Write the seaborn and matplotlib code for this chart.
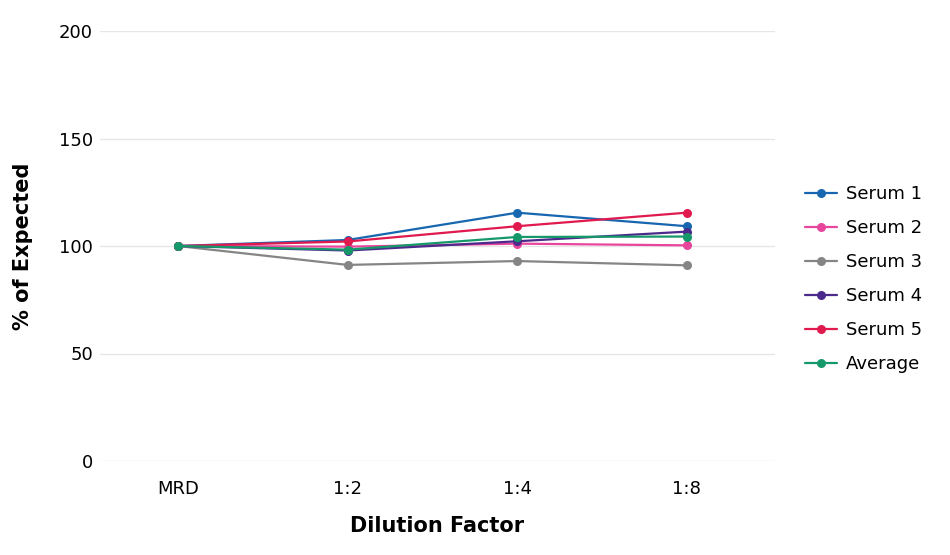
import pandas as pd
import matplotlib.pyplot as plt
import seaborn as sns

# DATA
dilutions = ['MRD', '1:2', '1:4', '1:8']
serum_1 = [100, 102.8, 115.5, 109.2]
serum_2 = [100, 99.7, 101.1, 100.3]
serum_3 = [100, 91.2, 93.0, 91.0]
serum_4 = [100, 97.9, 102.2, 106.7]
serum_5 = [100, 102.1, 109.2, 115.5]
average = [100, 98.3, 104.2, 104.4]
series_names = ['Serum 1', 'Serum 2', 'Serum 3', 'Serum 4', 'Serum 5', 'Average']
y_ticks = [0, 50, 100, 150, 200]

colors = ['#1766b0', '#e8459c', '#858585', '#4b2a8c', '#e0194f', '#16996a']

rows = []
for name, vals in zip(series_names, [serum_1, serum_2, serum_3, serum_4, serum_5, average]):
    for i, (d, v) in enumerate(zip(dilutions, vals)):
        rows.append({'pos': i, 'dilution': d, 'value': v, 'series': name})
df = pd.DataFrame(rows)

sns.set_style('white')
plt.rcParams['font.family'] = ['DejaVu Sans']
plt.rcParams['text.color'] = 'black'

fig = plt.figure(figsize=(9.5, 5.55), dpi=100)
ax = fig.add_axes([100 / 950, 1 - 461 / 555, (775 - 100) / 950, (461 - 31) / 555])

sns.lineplot(data=df, x='pos', y='value', hue='series', hue_order=series_names,
             palette=colors, marker='o', markersize=6.5, markeredgewidth=0,
             linewidth=1.6, ax=ax, legend=True)

ax.set_xlim(-0.46, 3.52)
ax.set_ylim(0, 200)
ax.set_xticks(range(len(dilutions)))
ax.set_xticklabels(dilutions)
ax.set_yticks(y_ticks)
ax.tick_params(axis='both', labelsize=13, length=0, labelcolor='black')
ax.tick_params(axis='x', pad=14)
ax.tick_params(axis='y', pad=5)
ax.grid(axis='y', color='#e6e6e6', linewidth=1)
ax.set_axisbelow(True)
for s in ax.spines.values():
    s.set_visible(False)

ax.set_xlabel('Dilution Factor', fontsize=15, fontweight='bold', labelpad=13, color='black')
ax.set_ylabel('% of Expected', fontsize=15, fontweight='bold', labelpad=19, color='black')

h, labs = ax.get_legend_handles_labels()
ax.legend(h, labs, loc='center left', bbox_to_anchor=(1.02, 0.423), frameon=False,
          fontsize=13, labelspacing=0.88, handlelength=1.8, handletextpad=0.5)

fig.savefig('out.png', dpi=100)
